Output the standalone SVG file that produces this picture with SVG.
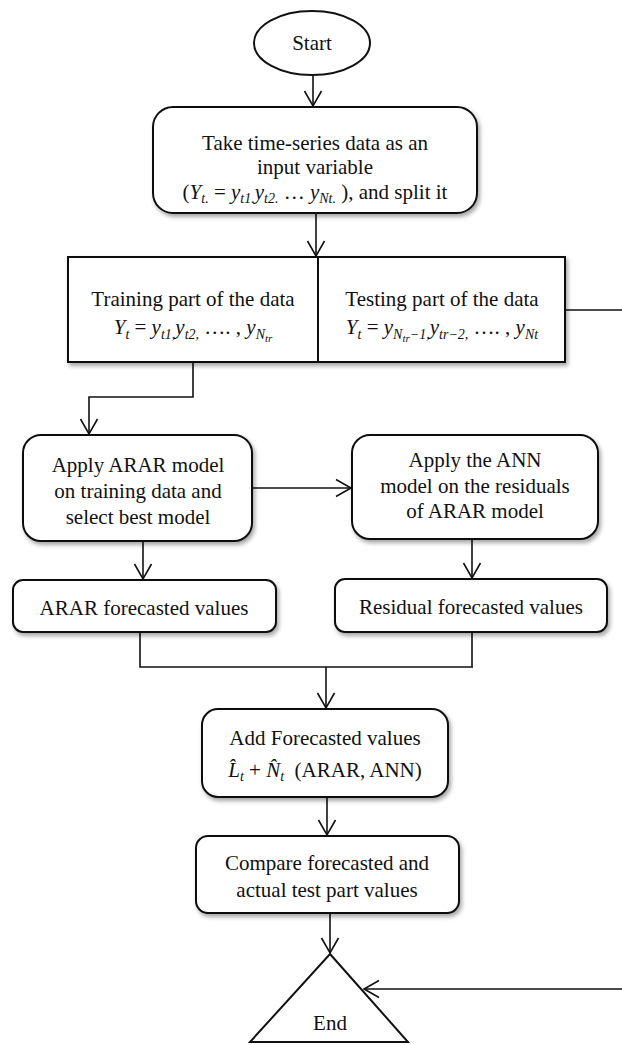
<svg xmlns="http://www.w3.org/2000/svg" width="622" height="1045" viewBox="0 0 622 1045">
<style>
.t{font-family:"Liberation Serif","Times New Roman",serif;font-size:21px;fill:#111;text-anchor:middle}
.i{font-style:italic}
.s{font-size:14px;font-style:italic}
.ss{font-size:11px;font-style:italic}
.box{fill:#fff;stroke:#111;stroke-width:2;filter:url(#sh)}
.plain{fill:#fff;stroke:#111;stroke-width:2}
.c{fill:none;stroke:#111;stroke-width:1.6}
.a{marker-end:url(#arr)}
</style>
<defs>
<filter id="sh" x="-10%" y="-10%" width="130%" height="140%">
<feDropShadow dx="2" dy="3" stdDeviation="2" flood-color="#000" flood-opacity="0.35"/>
</filter>
<marker id="arr" markerUnits="userSpaceOnUse" viewBox="-16 -10 18 20" markerWidth="18" markerHeight="20" refX="0" refY="0" orient="auto">
<path d="M-15,-8.5 L0,0 L-15,8.5" fill="none" stroke="#111" stroke-width="1.6"/>
</marker>
</defs>
<rect width="622" height="1045" fill="#fff"/>

<g id="connectors">
<line class="c a" x1="313" y1="75" x2="313" y2="106"/>
<line class="c a" x1="316" y1="213" x2="316" y2="256"/>
<path class="c a" d="M193,362 V397 H89 V434"/>
<line class="c" x1="565" y1="310" x2="622" y2="310"/>
<line class="c a" x1="252" y1="488" x2="351" y2="488"/>
<line class="c a" x1="143" y1="541" x2="143" y2="579"/>
<line class="c a" x1="472" y1="539" x2="472" y2="578"/>
<path class="c" d="M140,632 V667 H473 M472,632 V667"/>
<line class="c a" x1="326" y1="667" x2="326" y2="708"/>
<line class="c a" x1="327" y1="797" x2="327" y2="835"/>
<line class="c a" x1="330" y1="913" x2="330" y2="953"/>
<line class="c a" x1="622" y1="989" x2="364" y2="989"/>
</g>

<g id="start">
<ellipse class="plain" cx="312" cy="43" rx="58" ry="32"/>
<text class="t" x="312" y="50">Start</text>
</g>

<g id="input">
<rect class="box" x="153" y="107" width="324" height="106" rx="20"/>
<text class="t" x="315" y="150">Take time-series data as an</text>
<text class="t" x="315" y="174">input variable</text>
<text class="t" x="315" y="199">(<tspan class="i">Y</tspan><tspan class="s" dy="4">t.</tspan><tspan dy="-4"> = </tspan><tspan class="i">y</tspan><tspan class="s" dy="4">t1.</tspan><tspan class="i" dy="-4">y</tspan><tspan class="s" dy="4">t2.</tspan><tspan dy="-4"> … </tspan><tspan class="i">y</tspan><tspan class="s" dy="4">Nt.</tspan><tspan dy="-4"> ), and split it</tspan></text>
</g>

<g id="split">
<rect class="box" x="68" y="257" width="497" height="105"/>
<line x1="318" y1="257" x2="318" y2="362" stroke="#111" stroke-width="2"/>
<text class="t" x="193" y="306">Training part of the data</text>
<text class="t" x="193" y="334"><tspan class="i">Y</tspan><tspan class="s" dy="5">t</tspan><tspan dy="-5"> = </tspan><tspan class="i">y</tspan><tspan class="s" dy="5">t1,</tspan><tspan class="i" dy="-5">y</tspan><tspan class="s" dy="5">t2,</tspan><tspan dy="-5"> …. , </tspan><tspan class="i">y</tspan><tspan class="s" dy="5">N</tspan><tspan class="ss" dy="3">tr</tspan></text>
<text class="t" x="442" y="306">Testing part of the data</text>
<text class="t" x="442" y="334"><tspan class="i">Y</tspan><tspan class="s" dy="5">t</tspan><tspan dy="-5"> = </tspan><tspan class="i">y</tspan><tspan class="s" dy="5">N</tspan><tspan class="ss" dy="3">tr</tspan><tspan class="s" dy="-3">−1,</tspan><tspan class="i" dy="-5">y</tspan><tspan class="s" dy="5">tr−2,</tspan><tspan dy="-5"> …. , </tspan><tspan class="i">y</tspan><tspan class="s" dy="5">Nt</tspan></text>
</g>

<g id="arar">
<rect class="box" x="23" y="435" width="229" height="106" rx="18"/>
<text class="t" x="138" y="472">Apply ARAR model</text>
<text class="t" x="138" y="498">on training data and</text>
<text class="t" x="138" y="524">select best model</text>
</g>

<g id="ann">
<rect class="box" x="352" y="435" width="246" height="104" rx="18"/>
<text class="t" x="475" y="467">Apply the ANN</text>
<text class="t" x="475" y="493">model on the residuals</text>
<text class="t" x="475" y="518">of ARAR model</text>
</g>

<g id="arar-fc">
<rect class="box" x="13" y="580" width="263" height="52" rx="10"/>
<text class="t" x="144" y="615">ARAR forecasted values</text>
</g>

<g id="res-fc">
<rect class="box" x="335" y="579" width="272" height="53" rx="10"/>
<text class="t" x="471" y="614">Residual forecasted values</text>
</g>

<g id="add">
<rect class="box" x="202" y="709" width="246" height="88" rx="16"/>
<text class="t" x="325" y="745">Add Forecasted values</text>
<text class="t" x="325" y="777"><tspan class="i">L&#x302;</tspan><tspan class="s" dy="4">t</tspan><tspan dy="-4"> + </tspan><tspan class="i">N&#x302;</tspan><tspan class="s" dy="4">t</tspan><tspan dy="-4">&#160; (ARAR, ANN)</tspan></text>
</g>

<g id="compare">
<rect class="box" x="196" y="836" width="263" height="77" rx="12"/>
<text class="t" x="327" y="870">Compare forecasted and</text>
<text class="t" x="327" y="897">actual test part values</text>
</g>

<g id="end">
<polygon class="plain" points="330,954 408,1042 250,1042"/>
<text class="t" x="330" y="1030">End</text>
</g>
</svg>
